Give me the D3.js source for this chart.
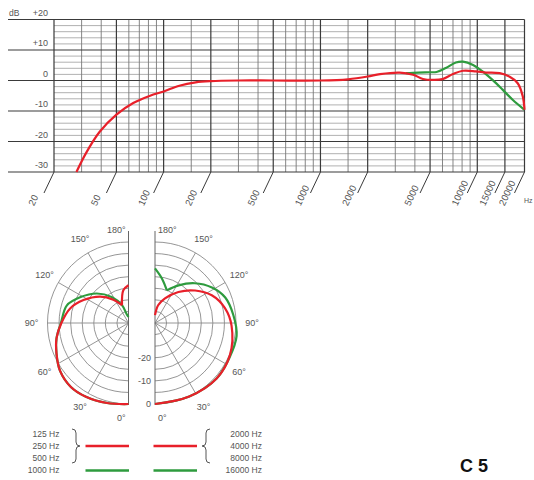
<!DOCTYPE html>
<html>
<head>
<meta charset="utf-8">
<script src="https://cdn.jsdelivr.net/npm/d3@7"></script>
<style>
  body { margin: 0; background: #fff; }
  text { font-family: "Liberation Sans", Arial, sans-serif; }
</style>
</head>
<body>
<div id="chart"></div>
<script>
// frequency response data
const freqTicks = [20, 50, 100, 200, 500, 1000, 2000, 5000, 10000, 15000, 20000];
const minorFreqs = [30, 40, 60, 70, 80, 90, 150, 300, 400, 600, 700, 800, 900, 1500, 3000, 4000, 6000, 7000, 8000, 9000];
const dbTicks = [-30, -20, -10, 0, 10];
const dbLabels = ["-30", "-20", "-10", "0", "+10"];

const redFreq = [27.8, 32, 39, 50, 64, 82, 100, 126, 160, 200, 300, 500, 1000, 1500, 2000, 2400, 3200, 3900, 4500, 5200, 6000, 7000, 8100, 9800, 11400, 13900, 16000, 18100, 19500, 20000];
const redDb = [-30, -23.8, -16.9, -11.2, -7.4, -5, -3.6, -1.7, -0.6, -0.2, 0, 0, 0, 0.4, 1.3, 2.1, 2.6, 1.9, 0.5, 0.2, 0.45, 2.1, 3.2, 3.0, 2.6, 2.4, 1.3, -0.9, -5.2, -9.6];
const greenFreq = [3500, 4200, 5000, 5500, 6300, 7300, 8100, 9400, 10800, 12500, 14500, 16800, 20000];
const greenDb = [2.4, 2.6, 2.7, 2.8, 4.1, 5.9, 6.2, 5.1, 3, 0.2, -3, -6.3, -9.6];

// polar data (angle in degrees, level in dB)
const polarRings = [-30, -25, -20, -15, -10, -5, 0];
const polarSpokes = [30, 60, 90, 120, 150];
const angleLabels = [0, 30, 60, 90, 120, 150, 180];
const ringLabels = [-20, -10, 0];

const lowRedAngles = [0, 15, 30, 42, 55, 67, 78, 90, 104, 117, 133, 147, 160, 171, 180];
const lowRedDb = [0, 0.8, 1.8, 2.2, 1.1, -1.2, -3.2, -6, -9, -13.2, -18.3, -23, -26.8, -20.7, -18.7];
const lowGreenAngles = [0, 15, 30, 42, 55, 67, 78, 90, 106, 118, 133, 147, 160, 168, 180];
const lowGreenDb = [0, 0.8, 1.8, 2.2, 1.1, -1.2, -3.2, -5.8, -7.3, -11.3, -16.3, -21.6, -26.8, -31, -32.4];
const highRedAngles = [0, 25, 48, 67, 88, 102, 116, 129, 143, 158, 170, 180];
const highRedDb = [0, 0, 0.8, 0.2, -1.9, -4.1, -7.7, -12.7, -18.2, -23.5, -27.2, -31.6];
const highGreenAngles = [0, 25, 48, 65, 81, 96, 110, 122, 135, 148, 160, 171, 180];
const highGreenDb = [0, 0, 0.8, 0.5, 0.7, -1, -2.7, -6, -10.7, -15.8, -20, -15.6, -11.4];

const lowBands = ["125 Hz", "250 Hz", "500 Hz", "1000 Hz"];
const highBands = ["2000 Hz", "4000 Hz", "8000 Hz", "16000 Hz"];

const RED = "#e8202a";
const GREEN = "#2e9b3e";
const GRID_DARK = "#3a3a3a";
const GRID_LIGHT = "#a8a8a8";
const TEXT = "#555";

const svg = d3.select("#chart")
  .append("svg")
  .attr("width", 534)
  .attr("height", 480);

// ---------- frequency response ----------
const x = d3.scaleLog()
  .domain([20, 20000])
  .range([54, 524.5]);

const y = d3.scaleLinear()
  .domain([-30, 20])
  .range([172, 19.5]);

const fr = svg.append("g");

// thin horizontal lines every 2 dB
const minorDb = d3.range(-28, 20, 2).filter(d => d % 10 !== 0);
fr.selectAll(".hminor")
  .data(minorDb)
  .join("line")
  .attr("x1", x(20)).attr("x2", x(20000))
  .attr("y1", d => y(d)).attr("y2", d => y(d))
  .attr("stroke", GRID_LIGHT)
  .attr("stroke-width", 0.9);

// thin vertical lines
fr.selectAll(".vminor")
  .data(minorFreqs)
  .join("line")
  .attr("x1", d => x(d)).attr("x2", d => x(d))
  .attr("y1", y(20)).attr("y2", y(-30))
  .attr("stroke", "#777")
  .attr("stroke-width", 0.9);

// major vertical lines
fr.selectAll(".vmajor")
  .data(freqTicks)
  .join("line")
  .attr("x1", d => x(d)).attr("x2", d => x(d))
  .attr("y1", y(20)).attr("y2", y(-30))
  .attr("stroke", GRID_DARK)
  .attr("stroke-width", 1.2);

// major horizontal lines, running out to the labels
fr.selectAll(".hmajor")
  .data([-30, -20, -10, 0, 10, 20])
  .join("line")
  .attr("x1", 8).attr("x2", x(20000))
  .attr("y1", d => y(d)).attr("y2", d => y(d))
  .attr("stroke", GRID_DARK)
  .attr("stroke-width", 1.2);

// y labels
fr.selectAll(".ylab")
  .data(dbTicks)
  .join("text")
  .attr("x", 48)
  .attr("y", d => y(d) - 4)
  .attr("text-anchor", "end")
  .attr("font-size", 9)
  .attr("fill", TEXT)
  .text((d, i) => dbLabels[i]);

fr.append("text")
  .attr("x", 48).attr("y", y(20) - 4)
  .attr("text-anchor", "end")
  .attr("font-size", 9).attr("fill", TEXT)
  .text("+20");

fr.append("text")
  .attr("x", 9).attr("y", y(20) - 4)
  .attr("font-size", 8.5).attr("fill", TEXT)
  .text("dB");

// slanted tick lines + labels
fr.selectAll(".xtick")
  .data(freqTicks)
  .join("line")
  .attr("x1", d => x(d)).attr("y1", y(-30))
  .attr("x2", d => x(d) - 10).attr("y2", y(-30) + 21)
  .attr("stroke", GRID_DARK)
  .attr("stroke-width", 1);

fr.selectAll(".xlab")
  .data(freqTicks)
  .join("text")
  .attr("transform", d => `translate(${x(d) - 23},205) rotate(-65)`)
  .attr("dy", "0.35em")
  .attr("font-size", 9.5)
  .attr("fill", TEXT)
  .text(d => d);

fr.append("text")
  .attr("x", 524).attr("y", 203)
  .attr("font-size", 7).attr("fill", TEXT)
  .text("Hz");

const freqLine = d3.line()
  .x(d => x(d[0]))
  .y(d => y(d[1]))
  .curve(d3.curveCatmullRom.alpha(0.5));

fr.append("path")
  .datum(greenFreq.map((f, i) => [f, greenDb[i]]))
  .attr("fill", "none")
  .attr("stroke", GREEN)
  .attr("stroke-width", 2.2)
  .attr("d", freqLine);

fr.append("path")
  .datum(redFreq.map((f, i) => [f, redDb[i]]))
  .attr("fill", "none")
  .attr("stroke", RED)
  .attr("stroke-width", 2.2)
  .attr("d", freqLine);

// ---------- polar plots ----------
const R = 81;
const r = d3.scaleLinear().domain([-35, 0]).range([0, R]);
const cy = 323;

function drawHalf(cx, side, curves) {
  const g = svg.append("g").attr("transform", `translate(${cx},${cy})`);
  // side -1 = left half, +1 = right half; 0 deg at the bottom
  const ang = deg => Math.PI - side * deg * Math.PI / 180;

  polarRings.forEach(db => {
    const p = d3.path();
    const rr = r(db);
    p.moveTo(0, rr);
    p.arc(0, 0, rr, Math.PI / 2, Math.PI / 2 - side * Math.PI, side > 0);
    g.append("path")
      .attr("d", p.toString())
      .attr("fill", "none")
      .attr("stroke", "#8a8a8a")
      .attr("stroke-width", 0.9);
  });

  g.selectAll(".spoke")
    .data(polarSpokes)
    .join("line")
    .attr("x1", 0).attr("y1", 0)
    .attr("x2", d => d3.pointRadial(ang(d), R)[0])
    .attr("y2", d => d3.pointRadial(ang(d), R)[1])
    .attr("stroke", "#8a8a8a")
    .attr("stroke-width", 0.9);

  g.append("line")
    .attr("x1", 0).attr("x2", 0)
    .attr("y1", -R - 11).attr("y2", R + 1)
    .attr("stroke", "#666")
    .attr("stroke-width", 1);

  g.selectAll(".alab")
    .data(angleLabels)
    .join("text")
    .attr("x", d => (d === 0 || d === 180) ? side * 3 : d3.pointRadial(ang(d), 97)[0])
    .attr("y", d => d === 180 ? -93 : d === 0 ? 95 : d3.pointRadial(ang(d), 97)[1])
    .attr("dy", "0.35em")
    .attr("text-anchor", d => (d === 0 || d === 180) ? (side < 0 ? "end" : "start") : "middle")
    .attr("font-size", 9)
    .attr("fill", TEXT)
    .text(d => d + "°");

  const radial = d3.lineRadial()
    .angle(d => ang(d[0]))
    .radius(d => r(d[1]))
    .curve(d3.curveCatmullRom.alpha(0.5));

  curves.forEach(c => {
    const pts = c.angles.map((a, i) => [a, c.db[i]]);
    // split at a cusp (local minimum) so the notch stays sharp
    let cut = -1;
    for (let i = 1; i < pts.length - 1; i++) {
      if (pts[i][1] < pts[i - 1][1] && pts[i][1] < pts[i + 1][1]) cut = i;
    }
    const parts = cut > 0 ? [pts.slice(0, cut + 1), pts.slice(cut)] : [pts];
    parts.forEach(part => {
      g.append("path")
        .datum(part)
        .attr("fill", "none")
        .attr("stroke", c.color)
        .attr("stroke-width", 2.2)
        .attr("d", radial);
    });
  });
}

drawHalf(128.5, -1, [
  { angles: lowGreenAngles, db: lowGreenDb, color: GREEN },
  { angles: lowRedAngles, db: lowRedDb, color: RED }
]);
drawHalf(155, 1, [
  { angles: highGreenAngles, db: highGreenDb, color: GREEN },
  { angles: highRedAngles, db: highRedDb, color: RED }
]);

svg.selectAll(".rlab")
  .data(ringLabels)
  .join("text")
  .attr("x", 151)
  .attr("y", d => cy + r(d))
  .attr("dy", "0.35em")
  .attr("text-anchor", "end")
  .attr("font-size", 9)
  .attr("fill", TEXT)
  .text(d => d);

// ---------- legend ----------
const rowY = [434.5, 446, 458, 470.5];
const legend = svg.append("g");

legend.selectAll(".low")
  .data(lowBands)
  .join("text")
  .attr("x", 59.5).attr("y", (d, i) => rowY[i])
  .attr("dy", "0.35em")
  .attr("text-anchor", "end")
  .attr("font-size", 8.5).attr("fill", TEXT)
  .text(d => d);

legend.selectAll(".high")
  .data(highBands)
  .join("text")
  .attr("x", 262).attr("y", (d, i) => rowY[i])
  .attr("dy", "0.35em")
  .attr("text-anchor", "end")
  .attr("font-size", 8.5).attr("fill", TEXT)
  .text(d => d);

function brace(xb, y0, y1, dir) {
  const w = 4 * dir, m = (y0 + y1) / 2;
  return `M${xb},${y0} Q${xb + w},${y0} ${xb + w},${y0 + 4} L${xb + w},${m - 4} Q${xb + w},${m} ${xb + 2 * w},${m}` +
    ` Q${xb + w},${m} ${xb + w},${m + 4} L${xb + w},${y1 - 4} Q${xb + w},${y1} ${xb},${y1}`;
}
legend.append("path").attr("d", brace(72, 429, 463, 1))
  .attr("fill", "none").attr("stroke", "#555").attr("stroke-width", 1);
legend.append("path").attr("d", brace(210, 429, 463, -1))
  .attr("fill", "none").attr("stroke", "#555").attr("stroke-width", 1);

[[85.5, 129], [153.5, 197]].forEach(([a, b]) => {
  legend.append("line").attr("x1", a).attr("x2", b)
    .attr("y1", rowY[1]).attr("y2", rowY[1])
    .attr("stroke", RED).attr("stroke-width", 2.5);
  legend.append("line").attr("x1", a).attr("x2", b)
    .attr("y1", rowY[3]).attr("y2", rowY[3])
    .attr("stroke", GREEN).attr("stroke-width", 2.5);
});

svg.append("text")
  .attr("x", 460).attr("y", 472)
  .attr("font-size", 18)
  .attr("font-weight", "bold")
  .attr("fill", "#111")
  .text("C 5");
</script>
</body>
</html>
